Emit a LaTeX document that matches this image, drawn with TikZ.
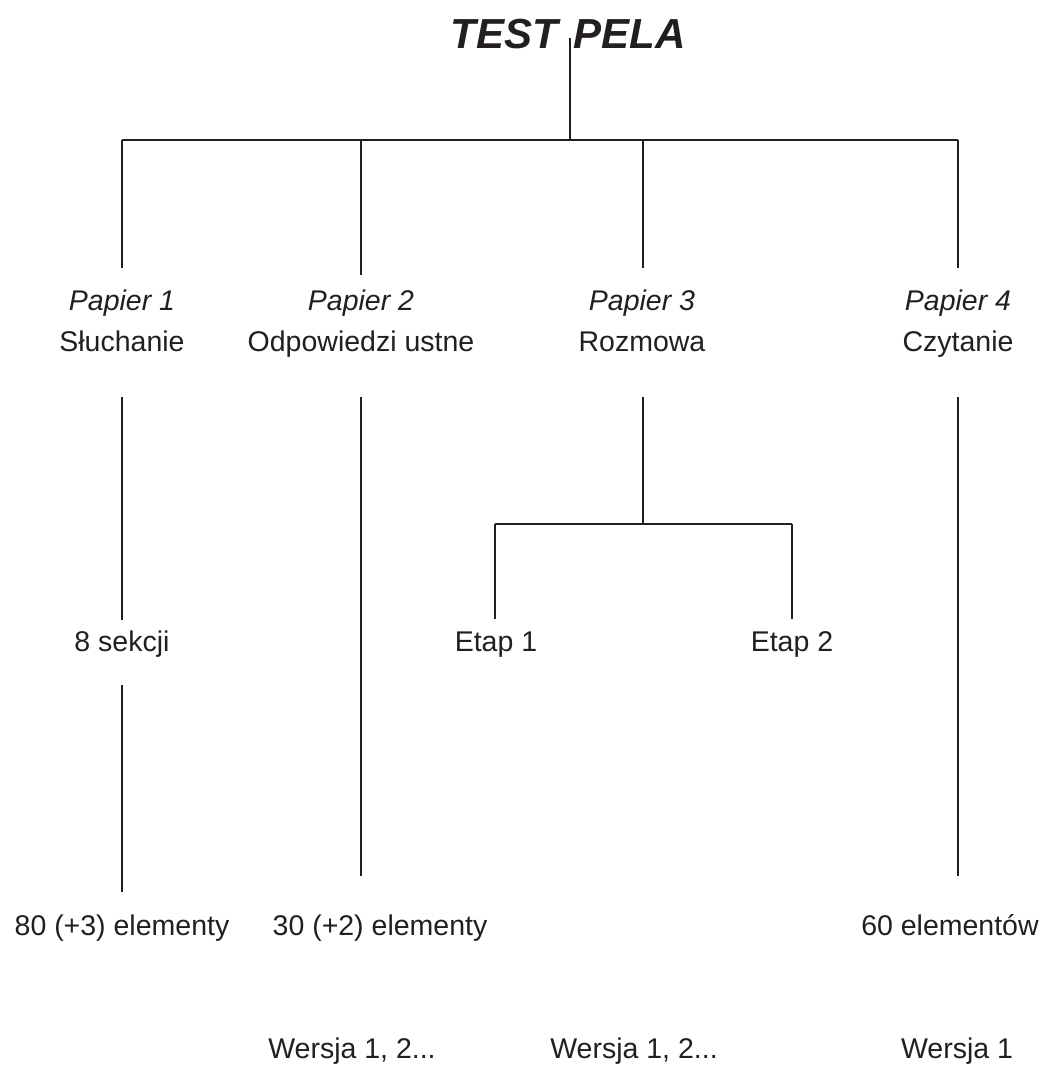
\documentclass[tikz,border=0pt]{standalone}
\usepackage{fontspec}
\setmainfont{Liberation Sans}
\definecolor{ink}{HTML}{231F20}
\begin{document}
\begin{tikzpicture}[x=1bp,y=-1bp,
  lbl/.style={anchor=base,inner sep=0pt,text=ink,font=\fontsize{28.5bp}{34bp}\selectfont},
  ilbl/.style={lbl,font=\fontsize{28.5bp}{34bp}\selectfont\itshape},
  ttl/.style={anchor=base,inner sep=0pt,text=ink,font=\fontsize{42bp}{50bp}\selectfont\bfseries\itshape},
  conn/.style={draw=ink,line width=2bp}]
\useasboundingbox[fill=white] (0,0) rectangle (1047,1075);
% texts
\node[ttl] (title) at (568,48) {TEST\hspace{4bp} PELA};
\node[ilbl] (p1) at (122,310) {Papier 1};
\node[lbl] (s1) at (122,351) {Słuchanie};
\node[ilbl] (p2) at (361,310) {Papier 2};
\node[lbl] (s2) at (361,351) {Odpowiedzi ustne};
\node[ilbl] (p3) at (642,310) {Papier 3};
\node[lbl] (s3) at (642,351) {Rozmowa};
\node[ilbl] (p4) at (958,310) {Papier 4};
\node[lbl] (s4) at (958,351) {Czytanie};
\node[lbl] (sek) at (122,651) {8 sekcji};
\node[lbl] (e1) at (496,651) {Etap 1};
\node[lbl] (e2) at (792,651) {Etap 2};
\node[lbl] (el1) at (122,935) {80 (+3) elementy};
\node[lbl] (el2) at (380,935) {30 (+2) elementy};
\node[lbl] (el4) at (950,935) {60 elementów};
\node[lbl] (w2) at (352,1058) {Wersja 1, 2...};
\node[lbl] (w3) at (634,1058) {Wersja 1, 2...};
\node[lbl] (w4) at (957,1058) {Wersja 1};
% junction coordinates
\coordinate (t0) at (570,38);
\coordinate (tj) at (570,140);
\coordinate (b1) at (122,140);
\coordinate (b2) at (361,140);
\coordinate (b3) at (643,140);
\coordinate (b4) at (958,140);
\coordinate (a1) at (122,268);
\coordinate (a2) at (361,275);
\coordinate (a3) at (643,268);
\coordinate (a4) at (958,268);
\coordinate (c1) at (122,397);
\coordinate (c2) at (361,397);
\coordinate (c3) at (643,397);
\coordinate (c4) at (958,397);
\coordinate (d1) at (122,620);
\coordinate (d2) at (361,876);
\coordinate (d3) at (643,524);
\coordinate (d4) at (958,876);
\coordinate (f1) at (495,524);
\coordinate (f2) at (792,524);
\coordinate (g1) at (495,619);
\coordinate (g2) at (792,619);
\coordinate (h1) at (122,685);
\coordinate (h2) at (122,892);
% connectors
\draw[conn] (t0) -- (tj);
\draw[conn] (b1) -- (b4);
\draw[conn] (b1) -- (a1);
\draw[conn] (b2) -- (a2);
\draw[conn] (b3) -- (a3);
\draw[conn] (b4) -- (a4);
\draw[conn] (c1) -- (d1);
\draw[conn] (c2) -- (d2);
\draw[conn] (c3) -- (d3);
\draw[conn] (c4) -- (d4);
\draw[conn] (f1) -- (f2);
\draw[conn] (f1) -- (g1);
\draw[conn] (f2) -- (g2);
\draw[conn] (h1) -- (h2);
\end{tikzpicture}
\end{document}
